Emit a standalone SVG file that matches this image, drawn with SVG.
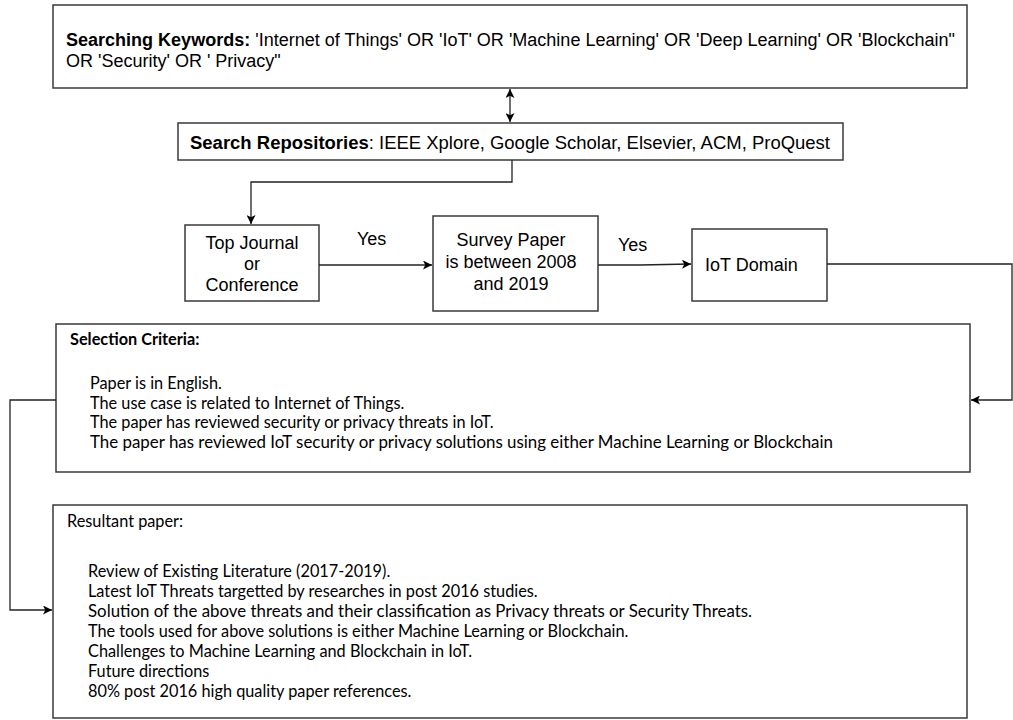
<svg xmlns="http://www.w3.org/2000/svg" width="1013" height="720" viewBox="0 0 1013 720">
<style>
.box{fill:#fff;stroke:#3a3a3a;stroke-width:1.5}
.ar{font-family:"Liberation Sans",Arial,sans-serif;fill:#000;font-size:18px}
.cb{font-family:Lato,"Open Sans",sans-serif;fill:#000;font-size:16.3px}
.ln{fill:none;stroke:#222;stroke-width:1.3}
</style>
<defs>
<marker id="ah" viewBox="0 0 10 10" refX="10" refY="5" markerWidth="9" markerHeight="9" markerUnits="userSpaceOnUse" orient="auto-start-reverse">
<path d="M0,0 L10,5 L0,10 L2.5,5 z" fill="#000"/>
</marker>
</defs>
<rect width="1013" height="720" fill="#fff"/>
<g id="keywords">
<rect class="box" x="53" y="5" width="914" height="83"/>
<text class="ar" x="66" y="46" textLength="889" lengthAdjust="spacingAndGlyphs"><tspan font-weight="bold">Searching Keywords:</tspan> 'Internet of Things' OR 'IoT' OR 'Machine Learning' OR 'Deep Learning' OR 'Blockchain"</text>
<text class="ar" x="66" y="67">OR 'Security' OR ' Privacy"</text>
</g>
<g id="repositories">
<rect class="box" x="178" y="123" width="665" height="37"/>
<text class="ar" x="190" y="149" font-size="18.5" textLength="640" lengthAdjust="spacingAndGlyphs"><tspan font-weight="bold">Search Repositories</tspan>: IEEE Xplore, Google Scholar, Elsevier, ACM, ProQuest</text>
</g>
<g id="topjournal">
<rect class="box" x="185" y="225" width="134" height="76"/>
<text class="ar" x="252" y="249" text-anchor="middle">Top Journal</text>
<text class="ar" x="252" y="270" text-anchor="middle">or</text>
<text class="ar" x="252" y="291" text-anchor="middle">Conference</text>
</g>
<g id="survey">
<rect class="box" x="433" y="216" width="165" height="95"/>
<text class="ar" x="511" y="246" text-anchor="middle">Survey Paper</text>
<text class="ar" x="511" y="268" text-anchor="middle">is between 2008</text>
<text class="ar" x="511" y="290" text-anchor="middle">and 2019</text>
</g>
<g id="iotdomain">
<rect class="box" x="692" y="229" width="135" height="72"/>
<text class="ar" x="705" y="271">IoT Domain</text>
</g>
<g id="selection">
<rect class="box" x="56" y="324" width="914" height="148"/>
<text class="cb" x="70" y="345" font-weight="bold">Selection Criteria:</text>
<text class="cb" x="90" y="389">Paper is in English.</text>
<text class="cb" x="90" y="408.5">The use case is related to Internet of Things.</text>
<text class="cb" x="90" y="428">The paper has reviewed security or privacy threats in IoT.</text>
<text class="cb" x="90" y="447.5" textLength="743" lengthAdjust="spacingAndGlyphs">The paper has reviewed IoT security or privacy solutions using either Machine Learning or Blockchain</text>
</g>
<g id="resultant">
<rect class="box" x="53" y="505" width="914" height="213"/>
<text class="cb" x="67" y="527">Resultant paper:</text>
<text class="cb" x="88" y="577">Review of Existing Literature (2017-2019).</text>
<text class="cb" x="88" y="597">Latest IoT Threats targetted by researches in post 2016 studies.</text>
<text class="cb" x="88" y="617" textLength="664" lengthAdjust="spacingAndGlyphs">Solution of the above threats and their classification as Privacy threats or Security Threats.</text>
<text class="cb" x="88" y="637">The tools used for above solutions is either Machine Learning or Blockchain.</text>
<text class="cb" x="88" y="657">Challenges to Machine Learning and Blockchain in IoT.</text>
<text class="cb" x="88" y="677">Future directions</text>
<text class="cb" x="88" y="697">80% post 2016 high quality paper references.</text>
</g>
<g id="connectors">
<line class="ln" x1="510" y1="89" x2="510" y2="122" marker-start="url(#ah)" marker-end="url(#ah)"/>
<polyline class="ln" points="512,160 512,182 251,182 251,224" marker-end="url(#ah)"/>
<line class="ln" x1="319" y1="265" x2="432" y2="265" marker-end="url(#ah)"/>
<polyline class="ln" points="598,265 640,265 691,264" marker-end="url(#ah)"/>
<polyline class="ln" points="827,264 1012,264 1012,400 971,400" marker-end="url(#ah)"/>
<polyline class="ln" points="56,400 10,400 10,610 52,610" marker-end="url(#ah)"/>
<text class="ar" x="357" y="245">Yes</text>
<text class="ar" x="618" y="251">Yes</text>
</g>
</svg>
